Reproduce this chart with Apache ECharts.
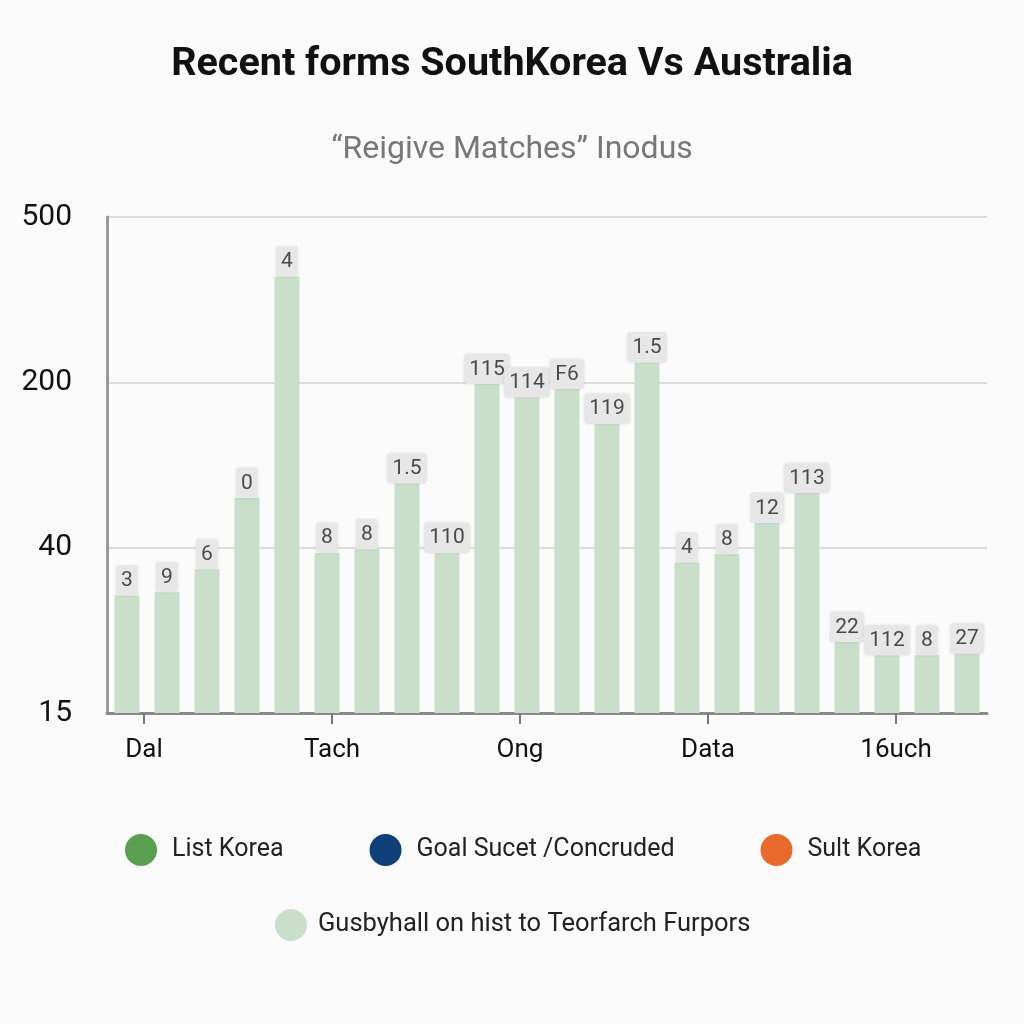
<!DOCTYPE html>
<html>
<head>
<meta charset="utf-8">
<script src="https://cdn.jsdelivr.net/npm/echarts@6/dist/echarts.min.js"></script>
<style>
html,body{margin:0;padding:0;background:#fbfbfb;}
#c{width:1024px;height:1024px;}
</style>
</head>
<body>
<div id="c"></div>
<script>
// ---- data ----
var matches = ['M1','M2','M3','M4','M5','M6','M7','M8','M9','M10','M11','M12','M13','M14','M15','M16','M17','M18','M19','M20','M21','M22'];
var barValues = [0.71, 0.73, 0.87, 1.30, 2.64, 0.97, 0.99, 1.39, 0.97, 1.99, 1.91, 1.96, 1.75, 2.12, 0.91, 0.96, 1.15, 1.33, 0.43, 0.35, 0.35, 0.36];
var barLabels = ['3','9','6','0','4','8','8','1.5','110','115','114','F6','119','1.5','4','8','12','113','22','112','8','27'];
var yTickLabels = ['15','40','200','500'];
var xTickLabels = ['Dal','Tach','Ong','Data','16uch'];
var xTickPositions = [1,2,3,4,5];
var seriesNames = ['List Korea','Goal Sucet /Concruded','Sult Korea','Gusbyhall on hist to Teorfarch Furpors'];
var seriesColors = ['#5a9e50','#0e3f78','#e8692b','#c9dfca'];

var chart = echarts.init(document.getElementById('c'));
var font = 'Roboto, "Noto Sans", sans-serif';
chart.setOption({
  backgroundColor: '#fbfbfb',
  animation: false,
  title: [
    {text: 'Recent forms SouthKorea Vs Australia', left: 'center', top: 40,
     textStyle: {fontFamily: font, fontSize: 39.5, fontWeight: 'bold', color: '#111'}},
    {text: '\u201cReigive Matches\u201d Inodus', left: 'center', top: 129,
     textStyle: {fontFamily: font, fontSize: 32, fontWeight: 'normal', color: '#777'}}
  ],
  legend: [
    {data: seriesNames.slice(0,3), left: 120, top: 829, icon: 'circle', itemWidth: 32, itemHeight: 32, itemGap: 86,
     textStyle: {fontFamily: font, fontSize: 25, color: '#222', padding: [0,0,0,10]}},
    {data: [seriesNames[3]], left: 270, top: 904, icon: 'circle', itemWidth: 32, itemHeight: 32,
     textStyle: {fontFamily: font, fontSize: 25.5, color: '#222', padding: [0,0,0,6]}}
  ],
  grid: {left: 107, right: 37, top: 217, bottom: 311, containLabel: false},
  xAxis: [
    {type: 'category', data: matches, boundaryGap: true,
     axisLine: {lineStyle: {color: '#8a8a8a', width: 3}},
     axisTick: {show: false}, axisLabel: {show: false}, splitLine: {show: false}},
    {type: 'value', position: 'bottom', min: 0.803, max: 5.484,
     axisLine: {show: false}, splitLine: {show: false},
     axisTick: {show: true, customValues: xTickPositions, length: 11, lineStyle: {color: '#777', width: 2}},
     axisLabel: {customValues: xTickPositions, margin: 24, fontFamily: font, fontSize: 26, color: '#111',
       formatter: function(v){ var i = xTickPositions.indexOf(v); return i >= 0 ? xTickLabels[i] : ''; }}}
  ],
  yAxis: {type: 'value', min: 0, max: 3, interval: 1,
    axisLine: {show: true, lineStyle: {color: '#999', width: 3}},
    axisTick: {show: false},
    splitLine: {lineStyle: {color: '#dcdcdc', width: 2}},
    axisLabel: {margin: 35, fontFamily: font, fontSize: 30, color: '#111',
      formatter: function(v){ return yTickLabels[Math.round(v)]; }}},
  series: [
    {name: seriesNames[0], type: 'bar', data: [], itemStyle: {color: seriesColors[0]}},
    {name: seriesNames[1], type: 'bar', data: [], itemStyle: {color: seriesColors[1]}},
    {name: seriesNames[2], type: 'bar', data: [], itemStyle: {color: seriesColors[2]}},
    {name: seriesNames[3], type: 'bar', data: barValues, barWidth: 25, barGap: '-100%',
     itemStyle: {color: seriesColors[3]},
     label: {show: true, position: 'top', distance: 0,
       formatter: function(p){ return barLabels[p.dataIndex]; },
       backgroundColor: '#e7e7e7', borderRadius: 3, padding: [5,5,4,5],
       shadowColor: 'rgba(0,0,0,0.12)', shadowBlur: 3,
       fontFamily: font, fontSize: 21, color: '#4a4a4a'}}
  ]
});
</script>
</body>
</html>
